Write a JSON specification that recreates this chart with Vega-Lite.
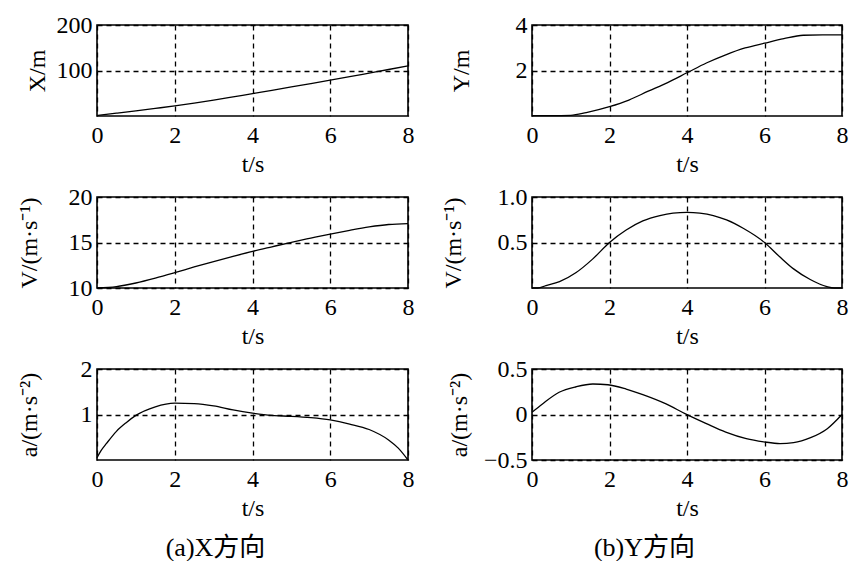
{
  "$schema": "https://vega.github.io/schema/vega-lite/v6.json",
  "background": "white",
  "autosize": {"type": "pad"},
  "padding": {"left": 16, "top": 12, "right": 5, "bottom": 2},
  "datasets": {
    "X": [
      {"t": 0, "v": 1}, {"t": 0.5, "v": 6.1}, {"t": 1, "v": 11.3}, {"t": 1.5, "v": 16.7},
      {"t": 2, "v": 22.2}, {"t": 2.5, "v": 28.3}, {"t": 3, "v": 34.8}, {"t": 3.5, "v": 42},
      {"t": 4, "v": 49.3}, {"t": 4.5, "v": 56.5}, {"t": 5, "v": 63.8}, {"t": 5.5, "v": 71.2},
      {"t": 6, "v": 78.7}, {"t": 6.5, "v": 86.4}, {"t": 7, "v": 94.3}, {"t": 7.5, "v": 102.2},
      {"t": 8, "v": 110}
    ],
    "Y": [
      {"t": 0, "v": 0.02}, {"t": 0.5, "v": 0.02}, {"t": 1, "v": 0.03}, {"t": 1.4, "v": 0.15},
      {"t": 2, "v": 0.41}, {"t": 2.5, "v": 0.7}, {"t": 3, "v": 1.09}, {"t": 3.5, "v": 1.47},
      {"t": 4, "v": 1.9}, {"t": 4.5, "v": 2.33}, {"t": 5, "v": 2.69}, {"t": 5.5, "v": 2.99},
      {"t": 6, "v": 3.2}, {"t": 6.5, "v": 3.4}, {"t": 7, "v": 3.55}, {"t": 7.5, "v": 3.57},
      {"t": 8, "v": 3.57}
    ],
    "VX": [
      {"t": 0, "v": 10}, {"t": 0.5, "v": 10.15}, {"t": 1, "v": 10.55}, {"t": 1.5, "v": 11.08},
      {"t": 2, "v": 11.68}, {"t": 2.5, "v": 12.31}, {"t": 3, "v": 12.91}, {"t": 3.5, "v": 13.48},
      {"t": 4, "v": 14.03}, {"t": 4.5, "v": 14.53}, {"t": 5, "v": 15.02}, {"t": 5.5, "v": 15.48},
      {"t": 6, "v": 15.93}, {"t": 6.5, "v": 16.34}, {"t": 7, "v": 16.71}, {"t": 7.5, "v": 16.98},
      {"t": 8, "v": 17.08}
    ],
    "VY": [
      {"t": 0, "v": 0}, {"t": 0.15, "v": 0}, {"t": 0.36, "v": 0.026}, {"t": 0.71, "v": 0.07},
      {"t": 1.14, "v": 0.17}, {"t": 1.57, "v": 0.32}, {"t": 2, "v": 0.5}, {"t": 2.43, "v": 0.637},
      {"t": 2.86, "v": 0.737}, {"t": 3.3, "v": 0.796}, {"t": 3.64, "v": 0.822}, {"t": 4, "v": 0.83},
      {"t": 4.33, "v": 0.822}, {"t": 4.68, "v": 0.796}, {"t": 5.02, "v": 0.748}, {"t": 5.45, "v": 0.656},
      {"t": 6, "v": 0.5}, {"t": 6.4, "v": 0.34}, {"t": 6.75, "v": 0.21}, {"t": 7.18, "v": 0.093},
      {"t": 7.61, "v": 0.015}, {"t": 7.8, "v": 0}, {"t": 8, "v": 0}
    ],
    "aX": [
      {"t": 0, "v": 0.05}, {"t": 0.1, "v": 0.2}, {"t": 0.25, "v": 0.37}, {"t": 0.5, "v": 0.63},
      {"t": 0.75, "v": 0.82}, {"t": 1, "v": 0.98}, {"t": 1.5, "v": 1.17}, {"t": 2, "v": 1.25},
      {"t": 2.5, "v": 1.24}, {"t": 3, "v": 1.19}, {"t": 3.5, "v": 1.1}, {"t": 4, "v": 1.03},
      {"t": 4.5, "v": 0.98}, {"t": 5, "v": 0.96}, {"t": 5.5, "v": 0.93}, {"t": 6, "v": 0.88},
      {"t": 6.5, "v": 0.79}, {"t": 7, "v": 0.67}, {"t": 7.5, "v": 0.44}, {"t": 7.75, "v": 0.26},
      {"t": 8, "v": 0}
    ],
    "aY": [
      {"t": 0, "v": 0.025}, {"t": 0.27, "v": 0.116}, {"t": 0.7, "v": 0.244}, {"t": 1.14, "v": 0.305},
      {"t": 1.57, "v": 0.335}, {"t": 1.96, "v": 0.327}, {"t": 2.43, "v": 0.28}, {"t": 2.86, "v": 0.218},
      {"t": 3.46, "v": 0.116}, {"t": 3.96, "v": 0.007}, {"t": 4.5, "v": -0.1}, {"t": 5, "v": -0.193},
      {"t": 5.53, "v": -0.265}, {"t": 5.98, "v": -0.3}, {"t": 6.4, "v": -0.32}, {"t": 6.75, "v": -0.31},
      {"t": 7.19, "v": -0.255}, {"t": 7.62, "v": -0.156}, {"t": 8, "v": 0}
    ]
  },
  "hconcat": [
    {
      "bounds": "flush",
      "spacing": 81,
      "title": {"text": "(a)X方向", "orient": "bottom", "anchor": "middle", "dx": 0},
      "vconcat": [
        {
          "width": 311, "height": 91,
          "data": {"name": "X"},
          "mark": {"type": "line", "color": "black", "strokeWidth": 1.3, "interpolate": "monotone"},
          "encoding": {
            "x": {"field": "t", "type": "quantitative", "scale": {"domain": [0, 8], "nice": false}, "axis": {"title": "t/s", "values": [0, 2, 4, 6, 8]}},
            "y": {"field": "v", "type": "quantitative", "scale": {"domain": [0, 200], "nice": false}, "axis": {"title": "X/m", "values": [100, 200], "titlePadding": 7}}
          }
        },
        {
          "width": 311, "height": 91,
          "data": {"name": "VX"},
          "mark": {"type": "line", "color": "black", "strokeWidth": 1.3, "interpolate": "monotone"},
          "encoding": {
            "x": {"field": "t", "type": "quantitative", "scale": {"domain": [0, 8], "nice": false}, "axis": {"title": "t/s", "values": [0, 2, 4, 6, 8]}},
            "y": {"field": "v", "type": "quantitative", "scale": {"domain": [10, 20], "nice": false, "zero": false}, "axis": {"title": "V/(m·s⁻¹)", "values": [10, 15, 20], "titlePadding": 27}}
          }
        },
        {
          "width": 311, "height": 91,
          "data": {"name": "aX"},
          "mark": {"type": "line", "color": "black", "strokeWidth": 1.3, "interpolate": "monotone"},
          "encoding": {
            "x": {"field": "t", "type": "quantitative", "scale": {"domain": [0, 8], "nice": false}, "axis": {"title": "t/s", "values": [0, 2, 4, 6, 8]}},
            "y": {"field": "v", "type": "quantitative", "scale": {"domain": [0, 2], "nice": false}, "axis": {"title": "a/(m·s⁻²)", "values": [1, 2], "titlePadding": 39}}
          }
        }
      ]
    },
    {
      "bounds": "flush",
      "spacing": 81,
      "title": {"text": "(b)Y方向", "orient": "bottom", "anchor": "middle", "dx": 0},
      "vconcat": [
        {
          "width": 310, "height": 91,
          "data": {"name": "Y"},
          "mark": {"type": "line", "color": "black", "strokeWidth": 1.3, "interpolate": "monotone"},
          "encoding": {
            "x": {"field": "t", "type": "quantitative", "scale": {"domain": [0, 8], "nice": false}, "axis": {"title": "t/s", "values": [0, 2, 4, 6, 8]}},
            "y": {"field": "v", "type": "quantitative", "scale": {"domain": [0, 4], "nice": false}, "axis": {"title": "Y/m", "values": [2, 4], "titlePadding": 42}}
          }
        },
        {
          "width": 310, "height": 91,
          "data": {"name": "VY"},
          "mark": {"type": "line", "color": "black", "strokeWidth": 1.3, "interpolate": "monotone"},
          "encoding": {
            "x": {"field": "t", "type": "quantitative", "scale": {"domain": [0, 8], "nice": false}, "axis": {"title": "t/s", "values": [0, 2, 4, 6, 8]}},
            "y": {"field": "v", "type": "quantitative", "scale": {"domain": [0, 1], "nice": false}, "axis": {"title": "V/(m·s⁻¹)", "values": [0.5, 1], "format": ".1f", "titlePadding": 32}}
          }
        },
        {
          "width": 310, "height": 91,
          "data": {"name": "aY"},
          "mark": {"type": "line", "color": "black", "strokeWidth": 1.3, "interpolate": "monotone"},
          "encoding": {
            "x": {"field": "t", "type": "quantitative", "scale": {"domain": [0, 8], "nice": false}, "axis": {"title": "t/s", "values": [0, 2, 4, 6, 8]}},
            "y": {"field": "v", "type": "quantitative", "scale": {"domain": [-0.5, 0.5], "nice": false}, "axis": {"title": "a/(m·s⁻²)", "values": [-0.5, 0, 0.5], "labelExpr": "datum.value == 0 ? '0' : format(datum.value, '.1f')", "titlePadding": 12}}
          }
        }
      ]
    }
  ],
  "spacing": 25,
  "config": {
    "view": {"stroke": "black", "strokeWidth": 1.6},
    "axis": {
      "domain": false, "ticks": false, "grid": true,
      "gridColor": "black", "gridDash": [5, 4], "gridWidth": 1.3, "gridOpacity": 1,
      "labelFont": "Liberation Serif", "labelFontSize": 24, "labelColor": "black",
      "titleFont": "Liberation Serif", "titleFontSize": 24, "titleFontWeight": "normal", "titleColor": "black"
    },
    "axisX": {"labelPadding": 7, "titlePadding": 5, "labelFlush": false},
    "axisY": {"labelPadding": 5},
    "title": {"font": "Liberation Serif, Noto Sans CJK SC", "fontSize": 26, "fontWeight": "normal", "color": "black", "offset": 14}
  }
}
